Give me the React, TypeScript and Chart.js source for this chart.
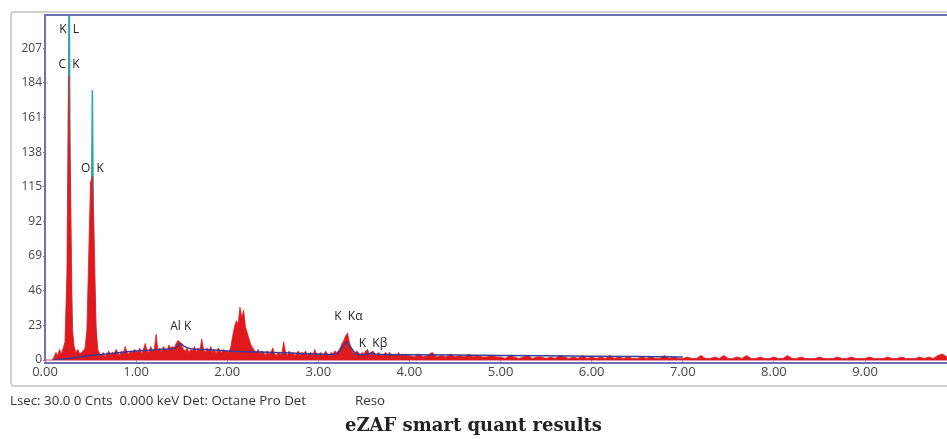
import { useEffect, useRef } from "react";
import { Chart, registerables } from "chart.js";

Chart.register(...registerables);

// Measured spectrum, 0.00–3.98 keV in 0.02 keV channels
const lowStartKeV = 0;
const lowStepKeV = 0.02;
const lowCounts = [
  0, 0, 0, 0, 0, 2, 5, 3, 7, 4,
  8, 12, 55, 189, 120, 20, 9, 5, 7, 4,
  5, 6, 8, 20, 70, 118, 122, 80, 22, 7,
  4, 3, 5, 2, 4, 6, 3, 5, 4, 7,
  5, 3, 6, 4, 9, 5, 4, 6, 5, 7,
  6, 5, 8, 4, 7, 11, 6, 5, 9, 6,
  7, 17, 6, 8, 5, 9, 7, 6, 10, 8,
  9, 8, 11, 13, 12, 10, 7, 6, 8, 5,
  7, 6, 9, 5, 8, 6, 14, 7, 5, 8,
  6, 9, 5, 7, 4, 8, 6, 5, 7, 6,
  6, 5, 9, 16, 22, 26, 24, 35, 28, 33,
  22, 18, 14, 10, 8, 6, 5, 7, 4, 6,
  5, 3, 6, 4, 5, 8, 4, 3, 5, 4,
  4, 12, 5, 3, 6, 4, 5, 3, 4, 6,
  3, 5, 4, 6, 3, 4, 5, 3, 7, 4,
  3, 5, 4, 3, 6, 4, 3, 5, 4, 6,
  5, 6, 8, 11, 13, 16, 18, 12, 8, 5,
  4, 6, 5, 3, 5, 4, 6, 7, 4, 5,
  6, 4, 3, 5, 4, 3, 4, 5, 3, 5,
  4, 3, 4, 3, 5, 3, 4, 3, 4, 3,
];

// Measured spectrum, 4.00–9.90 keV in 0.05 keV channels
const highStartKeV = 4.0;
const highStepKeV = 0.05;
const highCounts = [
  3, 2, 4, 2, 3, 5, 2, 3, 2, 4,
  2, 3, 2, 4, 2, 3, 2, 2, 3, 2,
  2, 1, 3, 2, 1, 2, 3, 1, 2, 2,
  1, 2, 1, 3, 2, 1, 2, 1, 3, 1,
  2, 1, 2, 1, 3, 1, 2, 1, 2, 1,
  1, 2, 1, 2, 1, 1, 3, 1, 2, 1,
  1, 2, 1, 1, 3, 1, 1, 2, 1, 3,
  1, 1, 2, 1, 3, 1, 1, 2, 1, 1,
  2, 1, 1, 3, 1, 1, 2, 1, 1, 1,
  2, 1, 1, 1, 2, 1, 1, 2, 1, 1,
  1, 2, 1, 1, 1, 2, 1, 1, 2, 1,
  1, 1, 2, 1, 2, 1, 3, 4, 2,
];

// Peak profile overlay (teal) for the C K / K L and O K lines
const fitEnergy = [0.22, 0.25, 0.265, 0.28, 0.31, 0.47, 0.505, 0.52, 0.535, 0.57];
const fitCounts = [0, 60, 262, 60, 0, 0, 60, 179, 60, 0];

// Background continuum
const bgEnergy = [
  0.1, 0.25, 0.5, 0.75, 1.0, 1.25, 1.4, 1.45, 1.49, 1.53, 1.6, 1.75,
  2.0, 2.25, 2.5, 2.75, 3.0, 3.2, 3.26, 3.31, 3.36, 3.42, 3.55, 3.59,
  3.63, 4.0, 5.0, 6.0, 7.0,
];
const bgCounts = [
  0, 1, 3, 4.5, 6, 7, 7.5, 9, 11, 9, 7.5, 7,
  6, 5.5, 5, 4.5, 4, 4, 8, 12, 8, 4, 3.8, 5,
  3.8, 3.5, 3, 2.5, 2,
];

const xTickValues = [0, 1, 2, 3, 4, 5, 6, 7, 8, 9];
const yTickValues = [0, 23, 46, 69, 92, 115, 138, 161, 184, 207];

// Element line markers: text, energy (keV), height (counts)
const markerTexts = ["K  L", "C  K", "O  K", "Al K", "K  Kα", "K  Kβ"];
const markerKeV = [0.265, 0.265, 0.52, 1.49, 3.33, 3.6];
const markerCounts = [219, 196, 127, 22, 28.5, 11];

const FONT = "'Open Sans', 'DejaVu Sans', sans-serif";

function channelPoints(start: number, step: number, counts: number[]) {
  return counts.map((c, i) => ({ x: +(start + i * step).toFixed(3), y: c }));
}

export default function App() {
  const canvasRef = useRef<HTMLCanvasElement | null>(null);

  useEffect(() => {
    const canvas = canvasRef.current;
    if (!canvas) return;

    const spectrum = [
      ...channelPoints(lowStartKeV, lowStepKeV, lowCounts),
      ...channelPoints(highStartKeV, highStepKeV, highCounts),
    ];
    const fit = fitEnergy.map((e, i) => ({ x: e, y: fitCounts[i] }));
    const bg = bgEnergy.map((e, i) => ({ x: e, y: bgCounts[i] }));

    const framePlugin = {
      id: "frame",
      afterDatasetsDraw(chart: any) {
        const { ctx, chartArea, scales } = chart;
        ctx.save();
        // plot frame: top and bottom purple rules
        ctx.strokeStyle = "#6d70b3";
        ctx.lineWidth = 2;
        ctx.beginPath();
        ctx.moveTo(chartArea.left, chartArea.top);
        ctx.lineTo(chartArea.right, chartArea.top);
        ctx.stroke();
        ctx.beginPath();
        ctx.moveTo(chartArea.left - 1, chartArea.bottom + 3);
        ctx.lineTo(chartArea.right, chartArea.bottom + 3);
        ctx.stroke();
        ctx.strokeStyle = "rgba(220,120,140,0.8)";
        ctx.lineWidth = 1;
        ctx.beginPath();
        ctx.moveTo(chartArea.left, chartArea.bottom + 0.5);
        ctx.lineTo(chartArea.right, chartArea.bottom + 0.5);
        ctx.stroke();

        // element line labels
        ctx.fillStyle = "#222";
        ctx.font = `12px ${FONT}`;
        ctx.textAlign = "center";
        ctx.textBaseline = "middle";
        markerTexts.forEach((t, i) => {
          const x = scales.x.getPixelForValue(markerKeV[i]);
          const y = scales.y.getPixelForValue(markerCounts[i]);
          ctx.fillText(t, x, y);
        });
        ctx.restore();
      },
    };

    const chart = new Chart(canvas, {
      type: "line",
      data: {
        datasets: [
          {
            data: fit,
            borderColor: "#2fa5ad",
            backgroundColor: "#2fa5ad",
            borderWidth: 1.5,
            fill: "origin",
            pointRadius: 0,
            order: 3,
          },
          {
            data: spectrum,
            borderColor: "rgba(228,30,36,0.8)",
            backgroundColor: "#e0191d",
            borderWidth: 1,
            fill: "origin",
            pointRadius: 0,
            order: 2,
          },
          {
            data: bg,
            borderColor: "#383c96",
            borderWidth: 1.5,
            fill: false,
            pointRadius: 0,
            tension: 0.3,
            order: 1,
          },
        ],
      },
      options: {
        animation: false,
        responsive: false,
        maintainAspectRatio: false,
        events: [],
        layout: { padding: { top: 15, right: 0, left: 0, bottom: 0 } },
        plugins: {
          legend: { display: false },
          tooltip: { enabled: false },
          title: { display: false },
        },
        scales: {
          x: {
            type: "linear",
            min: 0,
            max: 9.9,
            afterBuildTicks: (s: any) => {
              s.ticks = xTickValues.map((v) => ({ value: v }));
            },
            afterFit: (s: any) => {
              s.height = 79;
            },
            border: { display: false },
            grid: {
              drawOnChartArea: false,
              drawTicks: true,
              tickLength: 3,
              color: "#8a8cc0",
            },
            ticks: {
              padding: 1,
              color: "#444",
              font: { family: FONT, size: 13 },
              maxRotation: 0,
              callback: (v: any) => Number(v).toFixed(2),
            },
          },
          y: {
            type: "linear",
            min: 0,
            max: 229,
            afterBuildTicks: (s: any) => {
              s.ticks = yTickValues.map((v) => ({ value: v }));
            },
            afterFit: (s: any) => {
              s.width = 45;
            },
            border: { display: true, color: "#6d70b3", width: 2 },
            grid: {
              drawOnChartArea: false,
              drawTicks: true,
              tickLength: 2,
              color: "#777",
            },
            ticks: {
              padding: 1,
              color: "#444",
              font: { family: FONT, size: 12 },
            },
          },
        },
      },
      plugins: [framePlugin],
    } as any);

    return () => chart.destroy();
  }, []);

  return (
    <div
      style={{
        position: "fixed",
        left: 0,
        top: 0,
        width: 947,
        height: 439,
        overflow: "hidden",
        background: "#fff",
        fontFamily: FONT,
      }}
    >
      <div
        style={{
          position: "absolute",
          left: 10,
          top: 11,
          width: 980,
          height: 372,
          border: "2px solid #cfd0cf",
          borderRadius: 4,
        }}
      />
      <canvas
        ref={canvasRef}
        width={947}
        height={439}
        style={{ position: "absolute", left: 0, top: 0, width: 947, height: 439 }}
      />
      <div
        style={{
          position: "absolute",
          left: 10,
          top: 391,
          fontSize: 13.3,
          color: "#333",
          whiteSpace: "pre",
        }}
      >
        {"Lsec: 30.0 0 Cnts  0.000 keV Det: Octane Pro Det"}
      </div>
      <div
        style={{
          position: "absolute",
          left: 355,
          top: 391,
          fontSize: 13.3,
          color: "#333",
        }}
      >
        Reso
      </div>
      <div
        style={{
          position: "absolute",
          left: 0,
          width: 947,
          top: 414,
          textAlign: "center",
          fontFamily: "'DejaVu Serif', serif",
          fontWeight: "bold",
          fontSize: 18,
          color: "#222",
        }}
      >
        eZAF smart quant results
      </div>
    </div>
  );
}
